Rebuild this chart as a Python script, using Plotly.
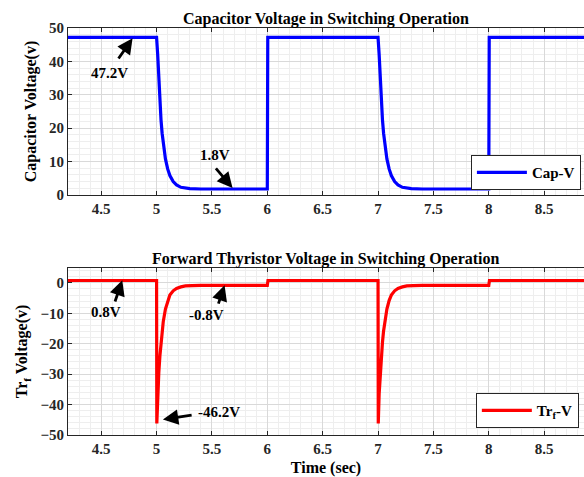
import plotly.graph_objects as go

# ---- data ----
cap_t = [4.2, 5.0, 5.01, 5.02, 5.03, 5.04, 5.05, 5.06, 5.08, 5.10, 5.12, 5.15, 5.18, 5.22, 5.26, 5.30, 5.40,
         6.0, 6.004,
         7.0, 7.01, 7.02, 7.03, 7.04, 7.05, 7.06, 7.08, 7.10, 7.12, 7.15, 7.18, 7.22, 7.26, 7.30, 7.40,
         8.0, 8.004, 8.86]
cap_v = [47.2, 47.2, 42.0, 34.0, 27.5, 22.5, 18.5, 15.3, 10.8, 7.8, 5.8, 4.0, 3.0, 2.3, 2.0, 1.9, 1.8,
         1.8, 47.2,
         47.2, 42.0, 34.0, 27.5, 22.5, 18.5, 15.3, 10.8, 7.8, 5.8, 4.0, 3.0, 2.3, 2.0, 1.9, 1.8,
         1.8, 47.2, 47.2]

thy_t = [4.2, 5.0, 5.002, 5.01, 5.02, 5.03, 5.04, 5.05, 5.06, 5.08, 5.10, 5.12, 5.15, 5.18, 5.22, 5.26, 5.32, 5.40,
         6.0, 6.006,
         7.0, 7.002, 7.01, 7.02, 7.03, 7.04, 7.05, 7.06, 7.08, 7.10, 7.12, 7.15, 7.18, 7.22, 7.26, 7.32, 7.40,
         8.0, 8.006, 8.86]
thy_v = [0.8, 0.8, -46.2, -36.5, -29.5, -24.0, -19.5, -15.8, -12.8, -8.6, -5.8, -4.0, -2.6, -1.8, -1.3, -1.0, -0.9, -0.8,
         -0.8, 0.8,
         0.8, -46.2, -36.5, -29.5, -24.0, -19.5, -15.8, -12.8, -8.6, -5.8, -4.0, -2.6, -1.8, -1.3, -1.0, -0.9, -0.8,
         -0.8, 0.8, 0.8]

x_ticks = [4.5, 5, 5.5, 6, 6.5, 7, 7.5, 8, 8.5]
x_tick_labels = ["4.5", "5", "5.5", "6", "6.5", "7", "7.5", "8", "8.5"]
cap_y_ticks = [0, 10, 20, 30, 40, 50]
thy_y_ticks = [0, -10, -20, -30, -40, -50]

FONT = "Liberation Serif, Times New Roman, serif"
AX = "#262626"

fig = go.Figure()
fig.add_trace(go.Scatter(x=cap_t, y=cap_v, mode="lines", name="Cap-V",
                         line=dict(color="#0000ff", width=3.2), xaxis="x", yaxis="y", legend="legend"))
fig.add_trace(go.Scatter(x=thy_t, y=thy_v, mode="lines", name="Tr<sub>f</sub>-V",
                         line=dict(color="#ff0000", width=3.2), xaxis="x2", yaxis="y2", legend="legend2"))


def xax(anchor, show_title):
    d = dict(range=[4.2, 8.86], tickvals=x_ticks, ticktext=x_tick_labels, anchor=anchor,
             showline=True, mirror="ticks", linecolor=AX, linewidth=1,
             ticks="inside", ticklen=4, tickcolor=AX, automargin=False,
             showgrid=True, gridcolor="#d9d9d9", gridwidth=1, zeroline=False,
             minor=dict(dtick=0.1, tick0=4.2, showgrid=True, gridcolor="#eeeeee", gridwidth=1, ticks=""),
             tickfont=dict(family=FONT, size=15, color=AX, weight="bold"))
    if show_title:
        d["title"] = dict(text="Time (sec)", font=dict(family=FONT, size=16, color="black", weight="bold"),
                          standoff=7)
    return d


def yax(anchor, rng, ticks, domain, title):
    return dict(range=rng, tickvals=ticks, anchor=anchor, domain=domain,
                showline=True, mirror=False, linecolor=AX, linewidth=1,
                ticks="inside", ticklen=4, tickcolor=AX, automargin=False,
                showgrid=True, gridcolor="#d9d9d9", gridwidth=1, zeroline=False,
                minor=dict(dtick=2, tick0=0, showgrid=True, gridcolor="#eeeeee", gridwidth=1, ticks=""),
                tickfont=dict(family=FONT, size=15, color=AX, weight="bold"),
                title=dict(text=title, font=dict(family=FONT, size=16, color="black", weight="bold"),
                           standoff=8))


annotations = [
    dict(text="Capacitor Voltage in Switching Operation", xref="paper", yref="paper", x=0.5, y=1.022,
         xanchor="center", yanchor="middle", showarrow=False,
         font=dict(family=FONT, size=16, color="black", weight="bold")),
    dict(text="Forward Thyristor Voltage in Switching Operation", xref="paper", yref="paper", x=0.5, y=0.4324,
         xanchor="center", yanchor="middle", showarrow=False,
         font=dict(family=FONT, size=16, color="black", weight="bold")),
]

# arrows (tip, tail) and labels in data coordinates
arrow_specs = [
    ("x", "y", 4.783, 46.9, 4.647, 40.4, "47.2V", 4.575, 36.5),
    ("x", "y", 5.686, 2.1, 5.524, 8.4, "1.8V", 5.524, 12.0),
    ("x2", "y2", 4.69, 0.9, 4.62, -6.6, "0.8V", 4.54, -9.4),
    ("x2", "y2", 5.614, -0.8, 5.554, -7.3, "-0.8V", 5.449, -10.7),
    ("x2", "y2", 5.057, -44.9, 5.33, -43.4, "-46.2V", 5.56, -42.3),
]
for xr, yr, tx, ty, ax_, ay_, label, lx, ly in arrow_specs:
    annotations.append(dict(x=tx, y=ty, xref=xr, yref=yr, ax=ax_, ay=ay_, axref=xr, ayref=yr,
                            text="", showarrow=True, arrowhead=2, arrowsize=1.1, arrowwidth=2.8,
                            arrowcolor="black"))
    annotations.append(dict(x=lx, y=ly, xref=xr, yref=yr, text=label, showarrow=False,
                            xanchor="center", yanchor="middle",
                            font=dict(family=FONT, size=15, color="black", weight="bold")))

legend_style = dict(bgcolor="white", bordercolor=AX, borderwidth=1,
                    font=dict(family=FONT, size=15, color="black", weight="bold"),
                    xanchor="right", yanchor="top", itemwidth=50)

fig.update_layout(
    width=584, height=477,
    margin=dict(l=68, r=0, t=28, b=42),
    paper_bgcolor="white", plot_bgcolor="white",
    font=dict(family=FONT, color="black"),
    xaxis=xax("y", False),
    yaxis=yax("x", [0, 50], cap_y_ticks, [0.5897, 1.0], "Capacitor Voltage(v)"),
    xaxis2=xax("y2", True),
    yaxis2=yax("x2", [-50, 4.9], thy_y_ticks, [0.0, 0.4103], "Tr<sub>f</sub> Voltage(v)"),
    legend=dict(x=0.994, y=0.6875, **legend_style),
    legend2=dict(x=0.990, y=0.1027, **legend_style),
    annotations=annotations,
    showlegend=True,
)

fig.write_html("out.html", config={"displayModeBar": False},
               post_script="document.body.style.margin='0px';document.body.style.overflow='hidden';")
